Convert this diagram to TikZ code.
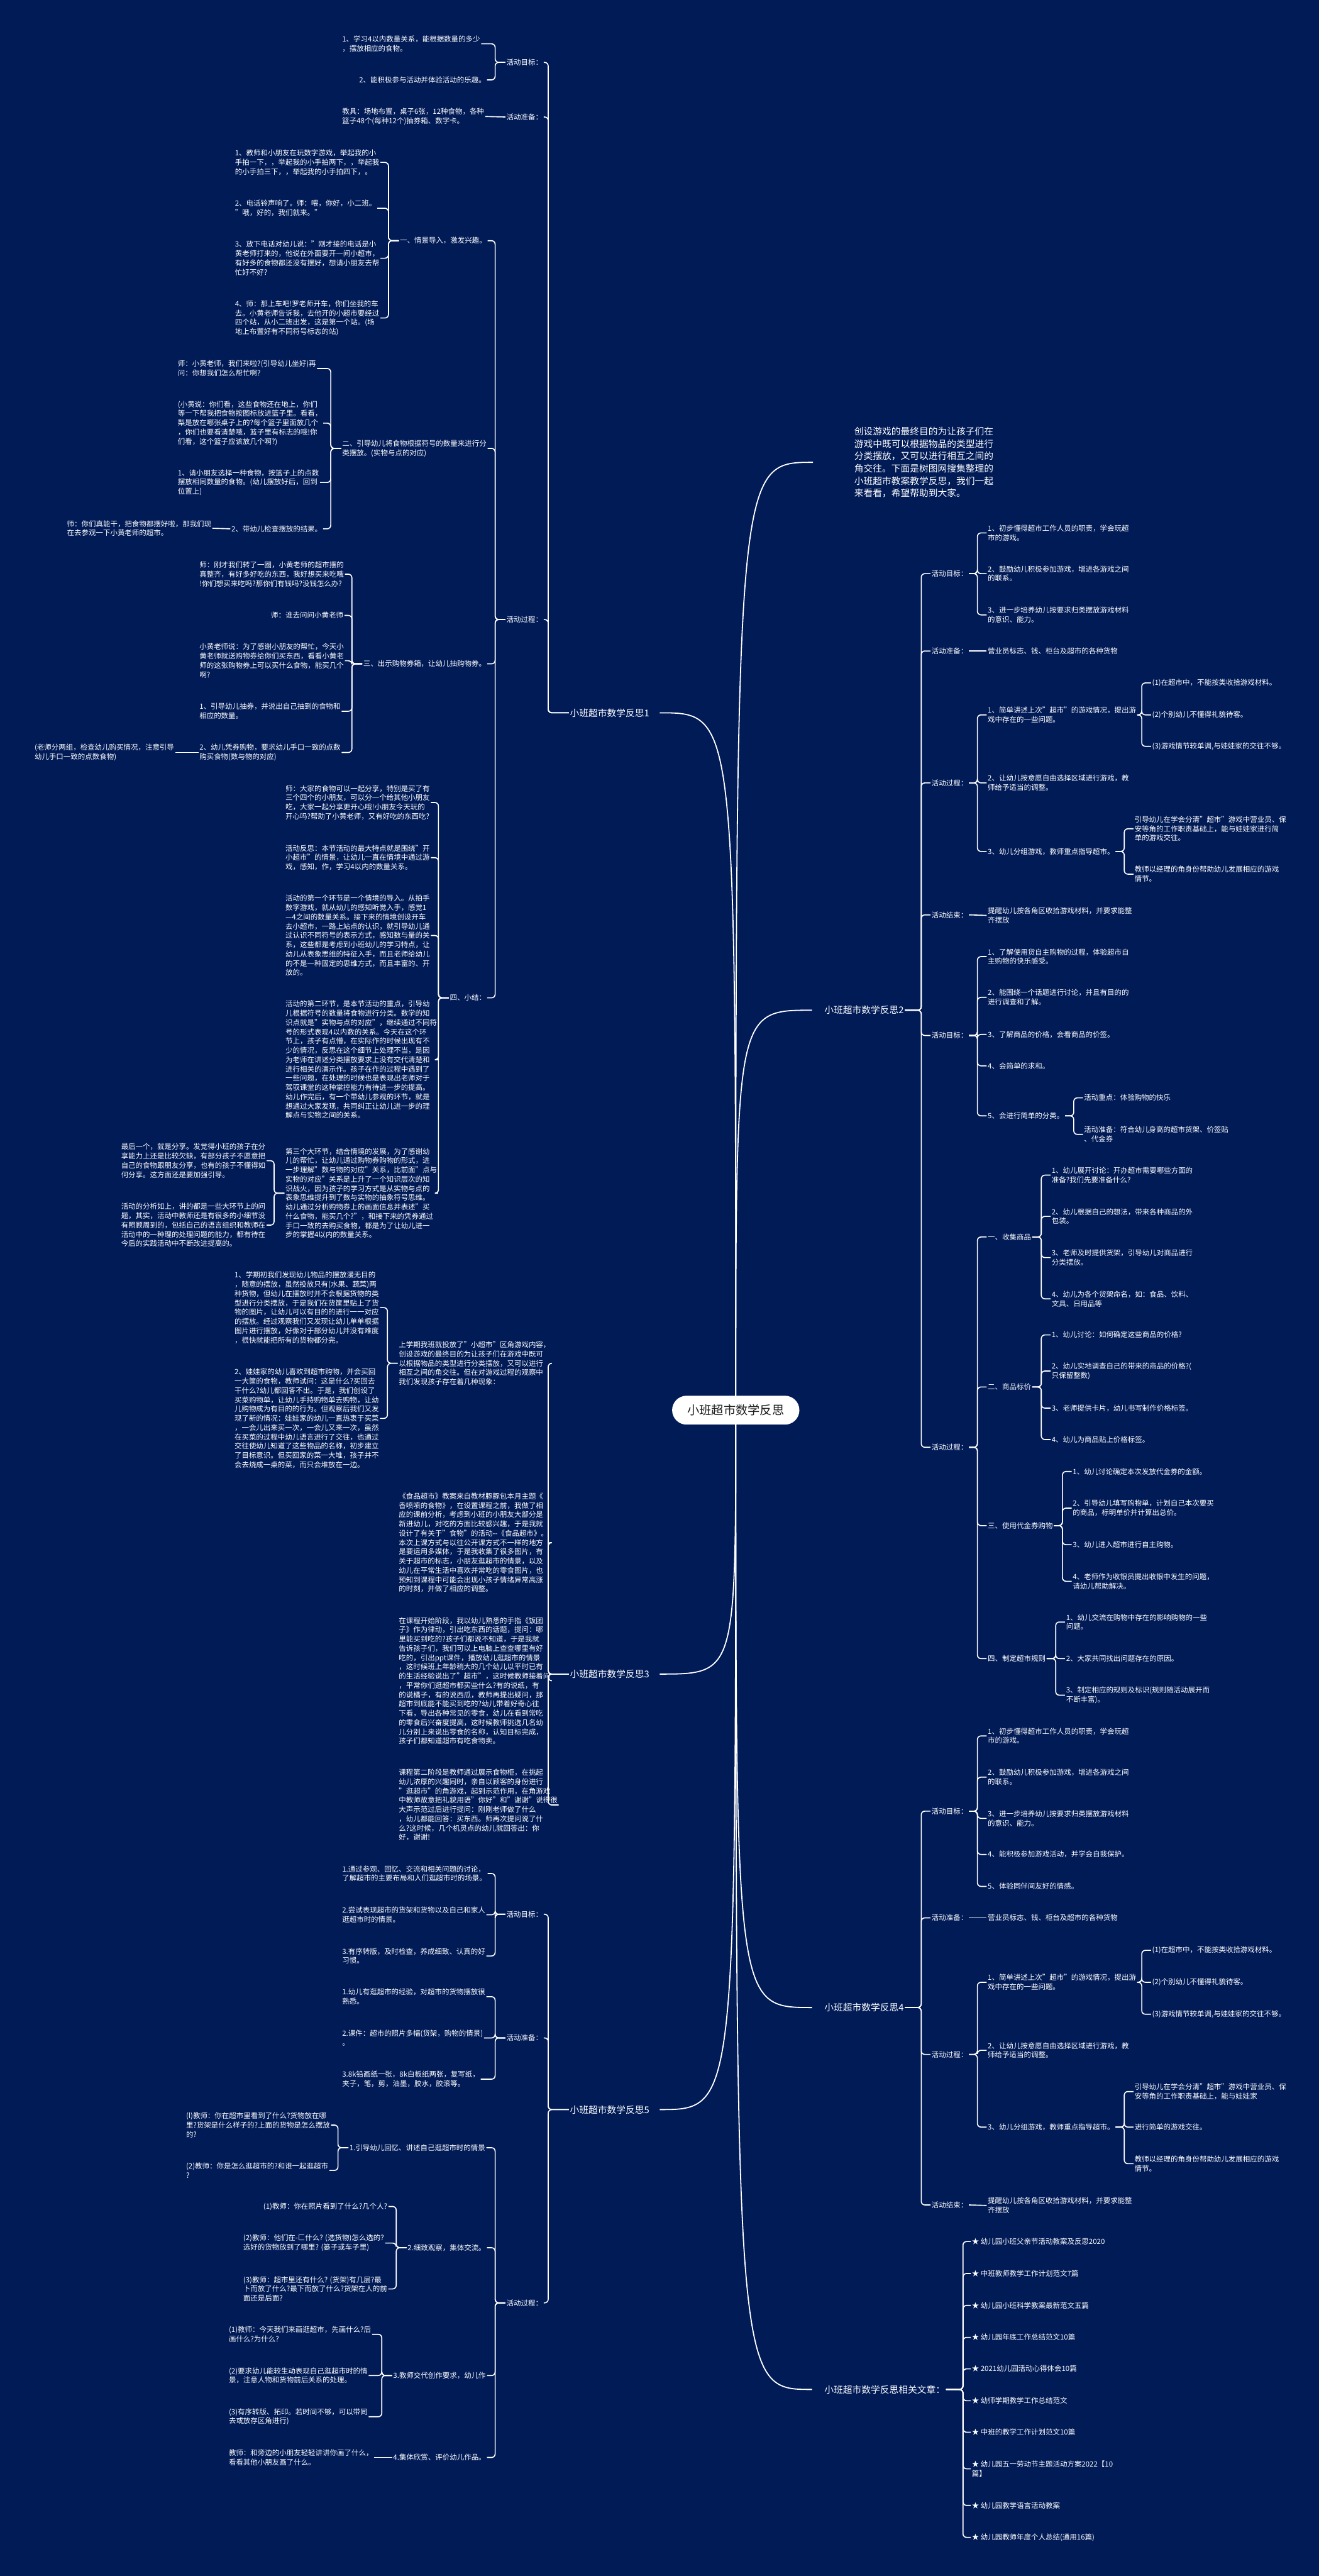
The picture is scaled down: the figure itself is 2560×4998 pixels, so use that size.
\documentclass[tikz,border=0pt]{standalone}
\usepackage{fontspec}
\setmainfont{Noto Sans CJK SC}
\definecolor{bgc}{RGB}{1,27,87}
\definecolor{roottext}{RGB}{30,30,30}
\pgfdeclarelayer{bglayer}
\pgfdeclarelayer{lines}
\pgfsetlayers{bglayer,lines,main}
\tikzset{
 txt/.style={text=white,font=\fontsize{14pt}{18pt}\selectfont,align=left,inner sep=2pt,anchor=west},
 big/.style={text=white,font=\fontsize{18pt}{24pt}\selectfont,align=left,inner sep=2pt,anchor=west},
 conn/.style={draw=white,line width=2pt,rounded corners=7pt},
 rconn/.style={draw=white,line width=2.2pt},
}
\newcommand\conR[2]{\draw[conn] (#1.east) -| ([xshift=-18pt]#2.west) -- (#2.west);}
\newcommand\conL[2]{\draw[conn] (#1.west) -- ++(-20,0) |- (#2.east);}
\newcommand\conLL[2]{\draw[conn] (#1.west) -- ++(-40,0) |- (#2.east);}
\newcommand\conRS[2]{\draw[conn] (#1.east) -- (#2.west);}
\newcommand\conLS[2]{\draw[conn] (#1.west) -- (#2.east);}
\newcommand\rootL[1]{\draw[rconn] (root.center) .. controls (root.center |- #1.east) .. ([xshift=18pt]#1.east);}
\newcommand\rootR[1]{\draw[rconn] (root.center) .. controls (root.center |- #1.west) .. ([xshift=-22pt]#1.west);}
\begin{document}
\begin{tikzpicture}[x=1pt,y=-1pt]
\useasboundingbox (0,0) rectangle (2560,4998);
\begin{pgfonlayer}{bglayer}
\fill[bgc] (0,0) rectangle (2560,4998);
\end{pgfonlayer}

% root
\node[fill=white,rounded corners=28pt,text=roottext,font=\fontsize{23.5pt}{26pt}\selectfont,minimum width=247pt,minimum height=56pt,inner sep=2pt] (root) at (1428,2736) {小班超市数学反思};

% ================= LEFT: 反思1 =================
\node[big] (L1) at (1104,1383) {小班超市数学反思1};
\node[txt] (L1a) at (981,121) {活动目标：};
\node[txt] (L1b) at (981,227) {活动准备：};
\node[txt] (L1c) at (981,1202) {活动过程：};
\node[txt] (L1a1) at (662,85) {1、学习4以内数量关系，能根据数量的多少\\，摆放相应的食物。};
\node[txt] (L1a2) at (695,155) {2、能积极参与活动并体验活动的乐趣。};
\node[txt] (L1b1) at (662,226) {教具：场地布置，桌子6张，12种食物，各种\\篮子48个(每种12个)抽券箱、数字卡。};
\node[txt] (P1) at (774,467) {一、情景导入，激发兴趣。};
\node[txt] (P1a) at (454,315) {1、教师和小朋友在玩数字游戏，举起我的小\\手拍一下，，举起我的小手拍两下，，举起我\\的小手拍三下，，举起我的小手拍四下，。};
\node[txt] (P1b) at (454,404) {2、电话铃声响了。师：喂，你好，小二班。\\"哦，好的，我们就来。"};
\node[txt] (P1c) at (454,501) {3、放下电话对幼儿说："刚才接的电话是小\\黄老师打来的，他说在外面要开一间小超市，\\有好多的食物都还没有摆好，想请小朋友去帮\\忙好不好?};
\node[txt] (P1d) at (454,617) {4、师：那上车吧!罗老师开车，你们坐我的车\\去。小黄老师告诉我，去他开的小超市要经过\\四个站，从小二班出发，这是第一个站。(场\\地上布置好有不同符号标志的站)};
\node[txt] (P2) at (662,870) {二、引导幼儿将食物根据符号的数量来进行分\\类摆放。(实物与点的对应)};
\node[txt] (P2a) at (343,715) {师：小黄老师，我们来啦?(引导幼儿坐好)再\\问：你想我们怎么帮忙啊?};
\node[txt] (P2b) at (343,821) {(小黄说：你们看，这些食物还在地上，你们\\等一下帮我把食物按图标放进篮子里。看看，\\梨是放在哪张桌子上的?每个篮子里面放几个\\，你们也要看清楚哦，篮子里有标志的哦!你\\们看，这个篮子应该放几个啊?)};
\node[txt] (P2c) at (343,936) {1、请小朋友选择一种食物，按篮子上的点数\\摆放相同数量的食物。(幼儿摆放好后，回到\\位置上)};
\node[txt] (P2d) at (447,1026) {2、带幼儿检查摆放的结果。};
\node[txt] (P2d1) at (128,1025) {师：你们真能干，把食物都摆好啦，那我们现\\在去参观一下小黄老师的超市。};
\node[txt] (P3) at (703,1288) {三、出示购物券箱，让幼儿抽购物券。};
\node[txt] (P3a) at (385,1114) {师：刚才我们转了一圈，小黄老师的超市摆的\\真整齐，有好多好吃的东西，我好想买来吃哦\\!你们想买来吃吗?那你们有钱吗?没钱怎么办?};
\node[txt] (P3b) at (524,1194) {师：谁去问问小黄老师};
\node[txt] (P3c) at (385,1282) {小黄老师说：为了感谢小朋友的帮忙，今天小\\黄老师就送购物券给你们买东西，看看小黄老\\师的这张购物券上可以买什么食物，能买几个\\啊?};
\node[txt] (P3d) at (385,1380) {1、引导幼儿抽券，并说出自己抽到的食物和\\相应的数量。};
\node[txt] (P3e) at (385,1460) {2、幼儿凭券购物，要求幼儿手口一致的点数\\购买食物(数与物的对应)};
\node[txt] (P3e1) at (65,1460) {(老师分两组，检查幼儿购买情况，注意引导\\幼儿手口一致的点数食物)};
\node[txt] (P4) at (871,1936) {四、小结：};
\node[txt] (P4a) at (552,1557) {师：大家的食物可以一起分享，特别是买了有\\三个四个的小朋友，可以分一个给其他小朋友\\吃，大家一起分享更开心哦!小朋友今天玩的\\开心吗?帮助了小黄老师，又有好吃的东西吃?};
\node[txt] (P4b) at (552,1664) {活动反思：本节活动的最大特点就是围绕"开\\小超市"的情景，让幼儿一直在情境中通过游\\戏，感知，作，学习4以内的数量关系。};
\node[txt] (P4c) at (552,1815) {活动的第一个环节是一个情境的导入。从拍手\\数字游戏，就从幼儿的感知听觉入手，感觉1\\—4之间的数量关系。接下来的情境创设开车\\去小超市，一路上站点的认识，就引导幼儿通\\过认识不同符号的表示方式，感知数与量的关\\系，这些都是考虑到小班幼儿的学习特点，让\\幼儿从表象思维的特征入手，而且老师给幼儿\\的不是一种固定的思维方式，而且丰富的、开\\放的。};
\node[txt] (P4d) at (552,2056) {活动的第二环节，是本节活动的重点，引导幼\\儿根据符号的数量将食物进行分类。数学的知\\识点就是"实物与点的对应"，继续通过不同符\\号的形式表现4以内数的关系。今天在这个环\\节上，孩子有点懵，在实际作的时候出现有不\\少的情况，反思在这个细节上处理不当，是因\\为老师在讲述分类摆放要求上没有交代清楚和\\进行相关的演示作。孩子在作的过程中遇到了\\一些问题，在处理的时候也是表现出老师对于\\驾驭课堂的这种掌控能力有待进一步的提高。\\幼儿作完后，有一个带幼儿参观的环节，就是\\想通过大家发现，共同纠正让幼儿进一步的理\\解点与实物之间的关系。};
\node[txt] (P4e) at (552,2315) {第三个大环节，结合情境的发展，为了感谢幼\\儿的帮忙，让幼儿通过购物券购物的形式，进\\一步理解"数与物的对应"关系，比前面"点与\\实物的对应"关系是上升了一个知识层次的知\\识战火，因为孩子的学习方式是从实物与点的\\表象思维提升到了数与实物的抽象符号思维。\\幼儿通过分析购物券上的画面信息并表述"买\\什么食物，能买几个?"，和接下来的凭券通过\\手口一致的去购买食物，都是为了让幼儿进一\\步的掌握4以内的数量关系。};
\node[txt] (P4e1) at (233,2252) {最后一个，就是分享。发觉得小班的孩子在分\\享能力上还是比较欠缺，有部分孩子不愿意把\\自己的食物跟朋友分享，也有的孩子不懂得如\\何分享。这方面还是要加强引导。};
\node[txt] (P4e2) at (233,2377) {活动的分析如上，讲的都是一些大环节上的问\\题，其实，活动中教师还是有很多的小细节没\\有照顾周到的，包括自己的语言组织和教师在\\活动中的一种理的处理问题的能力，都有待在\\今后的实践活动中不断改进提高的。};

\begin{pgfonlayer}{lines}
\conLL{L1}{L1a}\conLL{L1}{L1b}\conLL{L1}{L1c}
\conL{L1a}{L1a1}\conL{L1a}{L1a2}
\conLS{L1b}{L1b1}
\conL{L1c}{P1}\conL{L1c}{P2}\conL{L1c}{P3}\conL{L1c}{P4}
\conL{P1}{P1a}\conL{P1}{P1b}\conL{P1}{P1c}\conL{P1}{P1d}
\conL{P2}{P2a}\conL{P2}{P2b}\conL{P2}{P2c}\conL{P2}{P2d}
\conLS{P2d}{P2d1}
\conL{P3}{P3a}\conL{P3}{P3b}\conL{P3}{P3c}\conL{P3}{P3d}\conL{P3}{P3e}
\conLS{P3e}{P3e1}
\conL{P4}{P4a}\conL{P4}{P4b}\conL{P4}{P4c}\conL{P4}{P4d}\conL{P4}{P4e}
\conL{P4e}{P4e1}\conL{P4e}{P4e2}
\end{pgfonlayer}

% ================= LEFT: 反思3 =================
\node[big] (L3) at (1104,3248) {小班超市数学反思3};
\node[txt] (Q1) at (772,2645) {上学期我班就投放了"小超市"区角游戏内容，\\创设游戏的最终目的为让孩子们在游戏中既可\\以根据物品的类型进行分类摆放，又可以进行\\相互之间的角交往。但在对游戏过程的观察中\\我们发现孩子存在着几种现象：};
\node[txt] (Q1a) at (453,2537) {1、学期初我们发现幼儿物品的摆放漫无目的\\，随意的摆放，虽然投放只有(水果、蔬菜)两\\种货物，但幼儿在摆放时并不会根据货物的类\\型进行分类摆放，于是我们在货筐里贴上了货\\物的图片，让幼儿可以有目的的进行一一对应\\的摆放。经过观察我们又发现让幼儿单单根据\\图片进行摆放，好像对于部分幼儿并没有难度\\，很快就能把所有的货物都分完。};
\node[txt] (Q1b) at (453,2752) {2、娃娃家的幼儿喜欢到超市购物，并会买回\\一大筐的食物，教师试问：这是什么?买回去\\干什么?幼儿都回答不出。于是，我们创设了\\买菜购物单，让幼儿手持购物单去购物，让幼\\儿购物成为有目的的行为。但观察后我们又发\\现了新的情况：娃娃家的幼儿一直热衷于买菜\\，一会儿出来买一次，一会儿又来一次，虽然\\在买菜的过程中幼儿语言进行了交往，也通过\\交往使幼儿知道了这些物品的名称，初步建立\\了目标意识。但买回家的菜一大堆，孩子并不\\会去烧成一桌的菜，而只会堆放在一边。};
\node[txt] (Q2) at (772,2993) {《食品超市》教案来自教材豚豚包本月主题《\\香喷喷的食物》，在设置课程之前，我做了相\\应的课前分析，考虑到小班的小朋友大部分是\\新进幼儿，对吃的方面比较感兴趣，于是我就\\设计了有关于"食物"的活动-{}-《食品超市》。\\本次上课方式与以往公开课方式不一样的地方\\是要运用多媒体，于是我收集了很多图片，有\\关于超市的标志，小朋友逛超市的情景，以及\\幼儿在平常生活中喜欢并常吃的零食图片，也\\预知到课程中可能会出现小孩子情绪异常高涨\\的时刻，并做了相应的调整。};
\node[txt] (Q3) at (772,3261) {在课程开始阶段，我以幼儿熟悉的手指《饭团\\子》作为律动，引出吃东西的话题，提问：哪\\里能买到吃的?孩子们都说不知道，于是我就\\告诉孩子们，我们可以上电脑上查查哪里有好\\吃的，引出ppt课件，播放幼儿逛超市的情景\\，这时候班上年龄稍大的几个幼儿以平时已有\\的生活经验说出了"超市"，这时候教师接着问\\，平常你们逛超市都买些什么?有的说纸，有\\的说橘子，有的说西瓜，教师再提出疑问，那\\超市到底能不能买到吃的?幼儿带着好奇心往\\下看，导出各种常见的零食，幼儿在看到常吃\\的零食后兴奋度提高，这时候教师挑选几名幼\\儿分别上来说出零食的名称，认知目标完成，\\孩子们都知道超市有吃食物卖。};
\node[txt] (Q4) at (772,3502) {课程第二阶段是教师通过展示食物柜，在挑起\\幼儿浓厚的兴趣同时，亲自以顾客的身份进行\\"逛超市"的角游戏，起到示范作用，在角游戏\\中教师故意把礼貌用语"你好"和"谢谢"说得很\\大声示范过后进行提问：刚刚老师做了什么\\，幼儿都能回答：买东西。师再次提问说了什\\么?这时候，几个机灵点的幼儿就回答出：你\\好，谢谢!};
\begin{pgfonlayer}{lines}
\conLL{L3}{Q1}\conLL{L3}{Q2}\conLL{L3}{Q3}\conLL{L3}{Q4}
\conL{Q1}{Q1a}\conL{Q1}{Q1b}
\end{pgfonlayer}

% ================= LEFT: 反思5 =================
\node[big] (L5) at (1104,4093) {小班超市数学反思5};
\node[txt] (R1) at (981,3714) {活动目标：};
\node[txt] (R2) at (981,3954) {活动准备：};
\node[txt] (R3) at (981,4468) {活动过程：};
\node[txt] (R1a) at (662,3635) {1.通过参观、回忆、交流和相关问题的讨论，\\了解超市的主要布局和人们逛超市时的场景。};
\node[txt] (R1b) at (662,3715) {2.尝试表现超市的货架和货物以及自己和家人\\逛超市时的情景。};
\node[txt] (R1c) at (662,3795) {3.有序转版，及时检查，养成细致、认真的好\\习惯。};
\node[txt] (R2a) at (662,3874) {1.幼儿有逛超市的经验，对超市的货物摆放很\\熟悉。};
\node[txt] (R2b) at (662,3954) {2.课件：超市的照片多幅(货架，购物的情景)\\。};
\node[txt] (R2c) at (662,4034) {3.8k铅画纸一张，8k白板纸两张，复写纸，\\夹子，笔，剪，油墨，胶水，胶滚等。};
\node[txt] (R3a) at (676,4167) {1.引导幼儿回忆、讲述自己逛超市时的情景};
\node[txt] (R3a1) at (359,4123) {(l)教师：你在超市里看到了什么?货物放在哪\\里?货架是什么样子的?上面的货物是怎么摆放\\的?};
\node[txt] (R3a2) at (359,4211) {(2)教师：你是怎么逛超市的?和谁一起逛超市\\?};
\node[txt] (R3b) at (789,4361) {2.细致观察，集体交流。};
\node[txt] (R3b1) at (509,4281) {(1)教师：你在照片看到了什么?几个人?};
\node[txt] (R3b2) at (470,4352) {(2)教师：他们在-匚什么? (选货物)怎么选的?\\选好的货物放到了哪里? (篓子或车子里)};
\node[txt] (R3b3) at (470,4441) {(3)教师：超市里还有什么? (货架)有几层?最\\卜而放了什么?最下而放了什么?货架在人的前\\面还是后面?};
\node[txt] (R3c) at (761,4609) {3.教师交代创作要求，幼儿作};
\node[txt] (R3c1) at (442,4529) {(1)教师：今天我们来画逛超市，先画什么?后\\画什么?为什么?};
\node[txt] (R3c2) at (442,4609) {(2)要求幼儿能较生动表现自己逛超市时的情\\景，注意人物和货物前后关系的处理。};
\node[txt] (R3c3) at (442,4689) {(3)有序转版、拓印。若时间不够，可以带同\\去或放存区角进行)};
\node[txt] (R3d) at (761,4768) {4.集体欣赏、评价幼儿作品。};
\node[txt] (R3d1) at (442,4768) {教师：和旁边的小朋友轻轻讲讲你画了什么，\\看看其他小朋友画了什么。};
\begin{pgfonlayer}{lines}
\conLL{L5}{R1}\conLL{L5}{R2}\conLL{L5}{R3}
\conL{R1}{R1a}\conL{R1}{R1b}\conL{R1}{R1c}
\conL{R2}{R2a}\conL{R2}{R2b}\conL{R2}{R2c}
\conL{R3}{R3a}\conL{R3}{R3b}\conL{R3}{R3c}\conL{R3}{R3d}
\conL{R3a}{R3a1}\conL{R3a}{R3a2}
\conL{R3b}{R3b1}\conL{R3b}{R3b2}\conL{R3b}{R3b3}
\conL{R3c}{R3c1}\conL{R3c}{R3c2}\conL{R3c}{R3c3}
\conLS{R3d}{R3d1}
\end{pgfonlayer}

% ================= RIGHT: intro =================
\node[big,inner xsep=0pt] (I0) at (1658,897) {创设游戏的最终目的为让孩子们在\\游戏中既可以根据物品的类型进行\\分类摆放，又可以进行相互之间的\\角交往。下面是树图网搜集整理的\\小班超市教案教学反思，我们一起\\来看看，希望帮助到大家。};

% ================= RIGHT: 反思2 =================
\node[big] (S2) at (1598,1960) {小班超市数学反思2};
\node[txt] (S2a) at (1806,1113) {活动目标：};
\node[txt] (S2b) at (1806,1263) {活动准备：};
\node[txt] (S2c) at (1806,1519) {活动过程：};
\node[txt] (S2d) at (1806,1775) {活动结束：};
\node[txt] (S2e) at (1806,2009) {活动目标：};
\node[txt] (S2f) at (1806,2808) {活动过程：};
\node[txt] (S2a1) at (1915,1034) {1、初步懂得超市工作人员的职责，学会玩超\\市的游戏。};
\node[txt] (S2a2) at (1915,1113) {2、鼓励幼儿积极参加游戏，增进各游戏之间\\的联系。};
\node[txt] (S2a3) at (1915,1193) {3、进一步培养幼儿按要求归类摆放游戏材料\\的意识、能力。};
\node[txt] (S2b1) at (1915,1263) {营业员标志、钱、柜台及超市的各种货物};
\node[txt] (S2c1) at (1915,1387) {1、简单讲述上次"超市"的游戏情况，提出游\\戏中存在的一些问题。};
\node[txt] (S2c1a) at (2234,1325) {(1)在超市中，不能按类收拾游戏材料。};
\node[txt] (S2c1b) at (2234,1387) {(2)个别幼儿不懂得礼貌待客。};
\node[txt] (S2c1c) at (2234,1448) {(3)游戏情节较单调,与娃娃家的交往不够。};
\node[txt] (S2c2) at (1915,1519) {2、让幼儿按意愿自由选择区域进行游戏，教\\师给予适当的调整。};
\node[txt] (S2c3) at (1915,1652) {3、幼儿分组游戏，教师重点指导超市。};
\node[txt] (S2c3a) at (2200,1608) {引导幼儿在学会分清"超市"游戏中营业员、保\\安等角的工作职责基础上，能与娃娃家进行简\\单的游戏交往。};
\node[txt] (S2c3b) at (2200,1696) {教师以经理的角身份帮助幼儿发展相应的游戏\\情节。};
\node[txt] (S2d1) at (1915,1776) {提醒幼儿按各角区收拾游戏材料，并要求能整\\齐摆放};
\node[txt] (S2e1) at (1915,1856) {1、了解使用货自主购物的过程，体验超市自\\主购物的快乐感受。};
\node[txt] (S2e2) at (1915,1935) {2、能围绕一个话题进行讨论，并且有目的的\\进行调查和了解。};
\node[txt] (S2e3) at (1915,2007) {3、了解商品的价格，会看商品的价签。};
\node[txt] (S2e4) at (1915,2068) {4、会简单的求和。};
\node[txt] (S2e5) at (1915,2165) {5、会进行简单的分类。};
\node[txt] (S2e5a) at (2102,2130) {活动重点：体验购物的快乐};
\node[txt] (S2e5b) at (2102,2201) {活动准备：符合幼儿身高的超市货架、价签贴\\、代金券};
\node[txt] (S2f1) at (1915,2400) {一、收集商品};
\node[txt] (S2f1a) at (2039,2280) {1、幼儿展开讨论：开办超市需要哪些方面的\\准备?我们先要准备什么?};
\node[txt] (S2f1b) at (2039,2360) {2、幼儿根据自己的想法，带来各种商品的外\\包装。};
\node[txt] (S2f1c) at (2039,2440) {3、老师及时提供货架，引导幼儿对商品进行\\分类摆放。};
\node[txt] (S2f1d) at (2039,2520) {4、幼儿为各个货架命名，如：食品、饮料、\\文具、日用品等};
\node[txt] (S2f2) at (1915,2691) {二、商品标价};
\node[txt] (S2f2a) at (2039,2590) {1、幼儿讨论：如何确定这些商品的价格?};
\node[txt] (S2f2b) at (2039,2660) {2、幼儿实地调查自己的带来的商品的价格?(\\只保留整数)};
\node[txt] (S2f2c) at (2039,2732) {3、老师提供卡片，幼儿书写制作价格标签。};
\node[txt] (S2f2d) at (2039,2793) {4、幼儿为商品贴上价格标签。};
\node[txt] (S2f3) at (1915,2960) {三、使用代金券购物};
\node[txt] (S2f3a) at (2080,2855) {1、幼儿讨论确定本次发放代金券的金额。};
\node[txt] (S2f3b) at (2080,2926) {2、引导幼儿填写购物单，计划自己本次要买\\的商品，标明单价并计算出总价。};
\node[txt] (S2f3c) at (2080,2997) {3、幼儿进入超市进行自主购物。};
\node[txt] (S2f3d) at (2080,3068) {4、老师作为收银员提出收银中发生的问题，\\请幼儿帮助解决。};
\node[txt] (S2f4) at (1915,3218) {四、制定超市规则};
\node[txt] (S2f4a) at (2067,3147) {1、幼儿交流在购物中存在的影响购物的一些\\问题。};
\node[txt] (S2f4b) at (2067,3218) {2、大家共同找出问题存在的原因。};
\node[txt] (S2f4c) at (2067,3289) {3、制定相应的规则及标识(规则随活动展开而\\不断丰富)。};
\begin{pgfonlayer}{lines}
\conR{S2}{S2a}\conR{S2}{S2b}\conR{S2}{S2c}\conR{S2}{S2d}\conR{S2}{S2e}\conR{S2}{S2f}
\conR{S2a}{S2a1}\conR{S2a}{S2a2}\conR{S2a}{S2a3}
\conRS{S2b}{S2b1}
\conR{S2c}{S2c1}\conR{S2c}{S2c2}\conR{S2c}{S2c3}
\conR{S2c1}{S2c1a}\conR{S2c1}{S2c1b}\conR{S2c1}{S2c1c}
\conR{S2c3}{S2c3a}\conR{S2c3}{S2c3b}
\conRS{S2d}{S2d1}
\conR{S2e}{S2e1}\conR{S2e}{S2e2}\conR{S2e}{S2e3}\conR{S2e}{S2e4}\conR{S2e}{S2e5}
\conR{S2e5}{S2e5a}\conR{S2e5}{S2e5b}
\conR{S2f}{S2f1}\conR{S2f}{S2f2}\conR{S2f}{S2f3}\conR{S2f}{S2f4}
\conR{S2f1}{S2f1a}\conR{S2f1}{S2f1b}\conR{S2f1}{S2f1c}\conR{S2f1}{S2f1d}
\conR{S2f2}{S2f2a}\conR{S2f2}{S2f2b}\conR{S2f2}{S2f2c}\conR{S2f2}{S2f2d}
\conR{S2f3}{S2f3a}\conR{S2f3}{S2f3b}\conR{S2f3}{S2f3c}\conR{S2f3}{S2f3d}
\conR{S2f4}{S2f4a}\conR{S2f4}{S2f4b}\conR{S2f4}{S2f4c}
\end{pgfonlayer}

% ================= RIGHT: 反思4 =================
\node[big] (S4) at (1598,3895) {小班超市数学反思4};
\node[txt] (S4a) at (1806,3514) {活动目标：};
\node[txt] (S4b) at (1806,3721) {活动准备：};
\node[txt] (S4c) at (1806,3986) {活动过程：};
\node[txt] (S4d) at (1806,4278) {活动结束：};
\node[txt] (S4a1) at (1915,3368) {1、初步懂得超市工作人员的职责，学会玩超\\市的游戏。};
\node[txt] (S4a2) at (1915,3448) {2、鼓励幼儿积极参加游戏，增进各游戏之间\\的联系。};
\node[txt] (S4a3) at (1915,3528) {3、进一步培养幼儿按要求归类摆放游戏材料\\的意识、能力。};
\node[txt] (S4a4) at (1915,3598) {4、能积极参加游戏活动，并学会自我保护。};
\node[txt] (S4a5) at (1915,3660) {5、体验同伴间友好的情感。};
\node[txt] (S4b1) at (1915,3721) {营业员标志、钱、柜台及超市的各种货物};
\node[txt] (S4c1) at (1915,3846) {1、简单讲述上次"超市"的游戏情况，提出游\\戏中存在的一些问题。};
\node[txt] (S4c1a) at (2234,3784) {(1)在超市中，不能按类收拾游戏材料。};
\node[txt] (S4c1b) at (2234,3846) {(2)个别幼儿不懂得礼貌待客。};
\node[txt] (S4c1c) at (2234,3908) {(3)游戏情节较单调,与娃娃家的交往不够。};
\node[txt] (S4c2) at (1915,3978) {2、让幼儿按意愿自由选择区域进行游戏，教\\师给予适当的调整。};
\node[txt] (S4c3) at (1915,4127) {3、幼儿分组游戏，教师重点指导超市。};
\node[txt] (S4c3a) at (2200,4058) {引导幼儿在学会分清"超市"游戏中营业员、保\\安等角的工作职责基础上，能与娃娃家};
\node[txt] (S4c3b) at (2200,4127) {进行简单的游戏交往。};
\node[txt] (S4c3c) at (2200,4198) {教师以经理的角身份帮助幼儿发展相应的游戏\\情节。};
\node[txt] (S4d1) at (1915,4279) {提醒幼儿按各角区收拾游戏材料，并要求能整\\齐摆放};
\begin{pgfonlayer}{lines}
\conR{S4}{S4a}\conR{S4}{S4b}\conR{S4}{S4c}\conR{S4}{S4d}
\conR{S4a}{S4a1}\conR{S4a}{S4a2}\conR{S4a}{S4a3}\conR{S4a}{S4a4}\conR{S4a}{S4a5}
\conRS{S4b}{S4b1}
\conR{S4c}{S4c1}\conR{S4c}{S4c2}\conR{S4c}{S4c3}
\conR{S4c1}{S4c1a}\conR{S4c1}{S4c1b}\conR{S4c1}{S4c1c}
\conR{S4c3}{S4c3a}\conR{S4c3}{S4c3b}\conR{S4c3}{S4c3c}
\conRS{S4d}{S4d1}
\end{pgfonlayer}

% ================= RIGHT: 相关文章 =================
\node[big] (S6) at (1598,4636) {小班超市数学反思相关文章：};
\node[txt] (S6a) at (1884,4349) {★ 幼儿园小班父亲节活动教案及反思2020};
\node[txt] (S6b) at (1884,4411) {★ 中班教师教学工作计划范文7篇};
\node[txt] (S6c) at (1884,4473) {★ 幼儿园小班科学教案最新范文五篇};
\node[txt] (S6d) at (1884,4535) {★ 幼儿园年底工作总结范文10篇};
\node[txt] (S6e) at (1884,4596) {★ 2021幼儿园活动心得体会10篇};
\node[txt] (S6f) at (1884,4658) {★ 幼师学期教学工作总结范文};
\node[txt] (S6g) at (1884,4719) {★ 中班的教学工作计划范文10篇};
\node[txt] (S6h) at (1884,4790) {★ 幼儿园五一劳动节主题活动方案2022【10\\篇】};
\node[txt] (S6i) at (1884,4861) {★ 幼儿园教学语言活动教案};
\node[txt] (S6j) at (1884,4923) {★ 幼儿园教师年度个人总结(通用16篇)};
\begin{pgfonlayer}{lines}
\foreach \n in {S6a,S6b,S6c,S6d,S6e,S6f,S6g,S6h,S6i,S6j}{\draw[conn] (S6.east) -| ([xshift=-15pt]\n.west) -- (\n.west);}

% root connectors
\rootL{L1}\rootL{L3}\rootL{L5}
\rootR{S2}\rootR{S4}\rootR{S6}
\draw[rconn] (root.center) .. controls (root.center |- I0.west) .. ([xshift=-80pt]I0.west);
\end{pgfonlayer}
\end{tikzpicture}
\end{document}
